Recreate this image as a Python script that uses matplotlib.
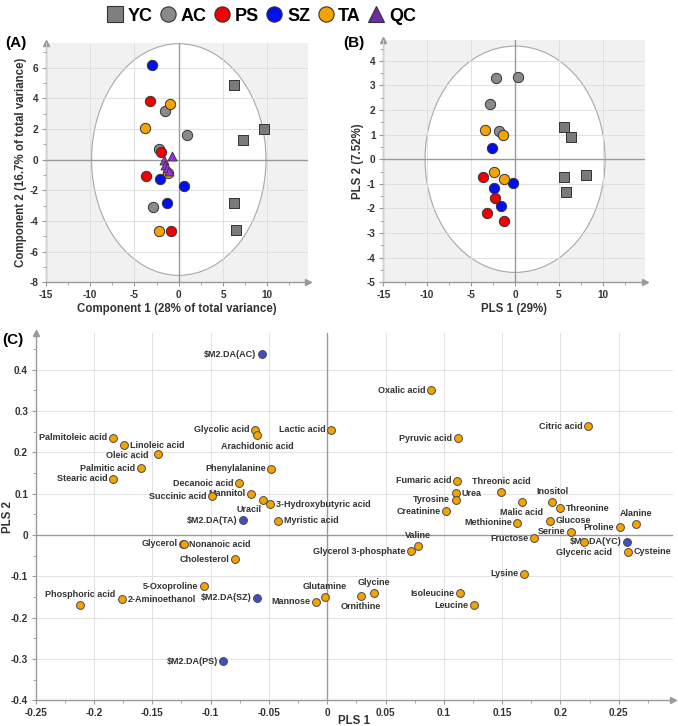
import numpy as np
import matplotlib.pyplot as plt
from matplotlib.patches import Ellipse
from matplotlib.lines import Line2D
from matplotlib.ticker import MultipleLocator

plt.rcParams['font.family'] = ['Liberation Sans', 'DejaVu Sans']
plt.rcParams['font.weight'] = 'bold'
plt.rcParams['axes.unicode_minus'] = False

# group colours
col_yc = '#7a7a7a'
col_ac = '#8a8a8a'
col_ps = '#f00000'
col_sz = '#0010f0'
col_ta = '#f5a300'
col_qc = '#9b30d9'

# (A) PCA scores
yc_a_x = [6.2, 9.6, 7.3, 6.2, 6.5]
yc_a_y = [4.86, 1.97, 1.3, -2.83, -4.62]
ac_a_x = [-1.5, 0.95, -2.25, -2.95]
ac_a_y = [3.17, 1.58, 0.69, -3.11]
ps_a_x = [-3.3, -1.95, -3.65, -0.85]
ps_a_y = [3.84, 0.48, -1.08, -4.67]
sz_a_x = [-3.05, -2.15, 0.55, -1.35]
sz_a_y = [6.16, -1.25, -1.75, -2.83]
ta_a_x = [-0.95, -3.8, -1.25, -2.25]
ta_a_y = [3.65, 2.05, -0.86, -4.64]
qc_a_x = [-0.8, -1.7, -1.55, -1.3, -1.1]
qc_a_y = [0.25, -0.05, -0.35, -0.55, -0.75]

# (B) PLS-DA scores
yc_b_x = [5.53, 6.4, 5.53, 8.03, 5.76]
yc_b_y = [1.32, 0.89, -0.73, -0.62, -1.34]
ac_b_x = [-2.12, 0.3, -2.84, -1.86]
ac_b_y = [3.31, 3.34, 2.24, 1.16]
ps_b_x = [-3.64, -2.27, -3.22, -1.29]
ps_b_y = [-0.72, -1.59, -2.18, -2.49]
sz_b_x = [-2.65, -2.42, -0.23, -1.63]
sz_b_y = [0.46, -1.16, -0.95, -1.88]
ta_b_x = [-3.41, -1.36, -2.39, -1.21]
ta_b_y = [1.19, 0.97, -0.51, -0.81]

# (C) loadings
met_names = ['Palmitoleic acid', 'Linoleic acid', 'Oleic acid', 'Palmitic acid', 'Stearic acid',
             'Glycolic acid', 'Arachidonic acid', 'Lactic acid', 'Phenylalanine', 'Decanoic acid',
             'Mannitol', 'Succinic acid', 'Uracil', '3-Hydroxybutyric acid', 'Myristic acid',
             'Glycerol', 'Nonanoic acid', 'Cholesterol', '5-Oxoproline', 'Phosphoric acid',
             '2-Aminoethanol', 'Mannose', 'Glutamine', 'Oxalic acid', 'Citric acid',
             'Pyruvic acid', 'Fumaric acid', 'Threonic acid', 'Urea', 'Tyrosine',
             'Creatinine', 'Malic acid', 'Inositol', 'Threonine', 'Methionine',
             'Glucose', 'Proline', 'Alanine', 'Serine', 'Fructose',
             'Glyceric acid', 'Cysteine', 'Valine', 'Glycerol 3-phosphate', 'Lysine',
             'Glycine', 'Ornithine', 'Isoleucine', 'Leucine']
met_x = [-0.184, -0.174, -0.145, -0.160, -0.184,
         -0.062, -0.060, 0.003, -0.048, -0.076,
         -0.065, -0.099, -0.055, -0.049, -0.042,
         -0.1237, -0.1232, -0.079, -0.106, -0.212,
         -0.176, -0.010, -0.002, 0.089, 0.224,
         0.112, 0.111, 0.149, 0.110, 0.110,
         0.102, 0.167, 0.193, 0.200, 0.163,
         0.191, 0.251, 0.265, 0.209, 0.177,
         0.220, 0.258, 0.078, 0.072, 0.169,
         0.040, 0.029, 0.114, 0.126]
met_y = [0.236, 0.217, 0.197, 0.162, 0.136,
         0.255, 0.242, 0.255, 0.161, 0.125,
         0.100, 0.094, 0.086, 0.074, 0.034,
         -0.021, -0.022, -0.059, -0.124, -0.169,
         -0.155, -0.161, -0.150, 0.350, 0.263,
         0.234, 0.132, 0.105, 0.101, 0.085,
         0.058, 0.081, 0.081, 0.065, 0.030,
         0.034, 0.019, 0.026, 0.008, -0.008,
         -0.016, -0.041, -0.027, -0.039, -0.094,
         -0.141, -0.147, -0.141, -0.170]

cls_names = ['$M2.DA(AC)', '$M2.DA(TA)', '$M2.DA(SZ)', '$M2.DA(PS)', '$M2.DA(YC)']
cls_x = [-0.056, -0.072, -0.060, -0.089, 0.257]
cls_y = [0.438, 0.036, -0.152, -0.305, -0.016]

# where labels sit relative to their point (default: left)
label_side = {'Linoleic acid': 'right', 'Arachidonic acid': 'below', 'Uracil': 'belowleft',
              '3-Hydroxybutyric acid': 'right', 'Myristic acid': 'right', 'Nonanoic acid': 'right',
              'Phosphoric acid': 'above', '2-Aminoethanol': 'right', 'Glutamine': 'above',
              'Threonic acid': 'above', 'Urea': 'right', 'Malic acid': 'below',
              'Inositol': 'above', 'Threonine': 'right', 'Glucose': 'right',
              'Alanine': 'above', 'Glyceric acid': 'below', 'Cysteine': 'right',
              'Valine': 'above', 'Glycine': 'above', 'Ornithine': 'below',
              'Oleic acid': 'oleic'}
side_offsets = {'left': (-4, 0, 'right'), 'right': (4, 0, 'left'),
                'above': (0, 7.5, 'center'), 'below': (0, -8, 'center'),
                'belowleft': (-1, -7, 'right'), 'oleic': (-7, -1.5, 'right')}

axis_grey = '#9a9a9a'
text_col = '#333333'


def add_arrows(ax):
    ax.plot(0, 1, marker='^', color=axis_grey, ms=5, transform=ax.transAxes, clip_on=False)
    ax.plot(1, 0, marker='>', color=axis_grey, ms=5, transform=ax.transAxes, clip_on=False)


def style_axes(ax):
    for s in ['top', 'right']:
        ax.spines[s].set_visible(False)
    for s in ['left', 'bottom']:
        ax.spines[s].set_color(axis_grey)
        ax.spines[s].set_linewidth(1)
    ax.tick_params(which='both', colors=axis_grey, labelcolor=text_col, labelsize=7.2, direction='out')
    ax.tick_params(which='major', length=3, pad=2.5)
    ax.tick_params(which='minor', length=2)
    for lab in ax.get_xticklabels() + ax.get_yticklabels():
        lab.set_fontweight('bold')
    ax.axhline(0, color=axis_grey, lw=1, zorder=2.6)
    ax.axvline(0, color=axis_grey, lw=1, zorder=2.6)
    add_arrows(ax)


def score_panel(ax, ell_w, ell_h):
    ax.set_facecolor('#f1f1f1')
    ax.add_patch(Ellipse((0, 0), 2 * ell_w, 2 * ell_h, facecolor='white',
                         edgecolor='#a8a8a8', lw=0.8, zorder=1))
    ax.set_axisbelow(False)
    ax.grid(True, which='major', color='#dcdcdc', lw=0.6)


fig = plt.figure(figsize=(6.78, 7.26), dpi=100)
lab_kw = dict(fontsize=8.3, fontweight='bold', color=text_col)

# ---- (A)
axA = fig.add_axes([0.0678, 0.6112, 0.3865, 0.3296])
score_panel(axA, 9.85, 7.55)
mk = dict(edgecolors='#333333', linewidths=0.7, zorder=4)
axA.scatter(yc_a_x, yc_a_y, marker='s', s=42, c=col_yc, **mk)
axA.scatter(ac_a_x, ac_a_y, marker='o', s=55, c=col_ac, **mk)
axA.scatter(ps_a_x, ps_a_y, marker='o', s=55, c=col_ps, **mk)
axA.scatter(sz_a_x, sz_a_y, marker='o', s=55, c=col_sz, **mk)
axA.scatter(ta_a_x, ta_a_y, marker='o', s=55, c=col_ta, **mk)
axA.scatter(qc_a_x, qc_a_y, marker='^', s=42, c=col_qc, edgecolors='#333333', linewidths=0.6, zorder=5)
axA.set_xlim(-15, 14.6)
axA.set_ylim(-8, 7.6)
axA.xaxis.set_major_locator(MultipleLocator(5))
axA.xaxis.set_minor_locator(MultipleLocator(2.5))
axA.yaxis.set_major_locator(MultipleLocator(2))
axA.yaxis.set_minor_locator(MultipleLocator(1))
axA.set_xticks([-15, -10, -5, 0, 5, 10])
style_axes(axA)
axA.set_xlabel('Component 1 (28% of total variance)', labelpad=2, **lab_kw)
axA.set_ylabel('Component 2 (16.7% of total variance)', labelpad=2, **lab_kw)

# ---- (B)
axB = fig.add_axes([0.5654, 0.6112, 0.386, 0.3338])
score_panel(axB, 10.25, 4.6)
axB.scatter(yc_b_x, yc_b_y, marker='s', s=42, c=col_yc, **mk)
axB.scatter(ac_b_x, ac_b_y, marker='o', s=55, c=col_ac, **mk)
axB.scatter(ps_b_x, ps_b_y, marker='o', s=55, c=col_ps, **mk)
axB.scatter(sz_b_x, sz_b_y, marker='o', s=55, c=col_sz, **mk)
axB.scatter(ta_b_x, ta_b_y, marker='o', s=55, c=col_ta, **mk)
axB.set_xlim(-15, 14.8)
axB.set_ylim(-5, 4.85)
axB.xaxis.set_major_locator(MultipleLocator(5))
axB.xaxis.set_minor_locator(MultipleLocator(2.5))
axB.yaxis.set_major_locator(MultipleLocator(1))
axB.yaxis.set_minor_locator(MultipleLocator(0.5))
axB.set_xticks([-15, -10, -5, 0, 5, 10])
style_axes(axB)
axB.set_xlabel('PLS 1 (29%)', labelpad=2, **lab_kw)
axB.set_ylabel('PLS 2 (7.52%)', labelpad=2, **lab_kw)

# ---- (C)
axC = fig.add_axes([0.0527, 0.0354, 0.9399, 0.5059])
axC.set_facecolor('white')
axC.set_axisbelow(True)
axC.grid(True, which='major', color='#e2e2e2', lw=0.7)
axC.scatter(met_x, met_y, s=32, c=col_ta, edgecolors='#4a4a4a', linewidths=0.7, zorder=4)
axC.scatter(cls_x, cls_y, s=32, c='#3d50c3', edgecolors='#4a4a4a', linewidths=0.7, zorder=4)
for name, x, y in list(zip(met_names, met_x, met_y)) + list(zip(cls_names, cls_x, cls_y)):
    dx, dy, ha = side_offsets[label_side.get(name, 'left')]
    axC.annotate(name, (x, y), xytext=(dx, dy), textcoords='offset points', ha=ha, va='center',
                 fontsize=6.5, fontweight='bold', color=text_col, zorder=3)
axC.set_xlim(-0.25, 0.2965)
axC.set_ylim(-0.4, 0.489)
axC.xaxis.set_minor_locator(MultipleLocator(0.025))
axC.yaxis.set_minor_locator(MultipleLocator(0.05))
axC.set_xticks([-0.25, -0.2, -0.15, -0.1, -0.05, 0, 0.05, 0.1, 0.15, 0.2, 0.25])
axC.set_xticklabels(['-0.25', '-0.2', '-0.15', '-0.1', '-0.05', '0', '0.05', '0.1', '0.15', '0.2', '0.25'])
axC.set_yticks([-0.4, -0.3, -0.2, -0.1, 0, 0.1, 0.2, 0.3, 0.4])
axC.set_yticklabels(['-0.4', '-0.3', '-0.2', '-0.1', '0', '0.1', '0.2', '0.3', '0.4'])
style_axes(axC)
axC.set_xlabel('PLS 1', **lab_kw)
axC.set_ylabel('PLS 2', **lab_kw)
axC.xaxis.set_label_coords(0.5, -0.041)
axC.yaxis.set_label_coords(-0.034, 0.5)

# panel letters
fig.text(0.008, 0.941, '(A)', fontsize=11, fontweight='bold', va='center')
fig.text(0.506, 0.941, '(B)', fontsize=11, fontweight='bold', va='center')
fig.text(0.004, 0.532, '(C)', fontsize=11, fontweight='bold', va='center')

# legend on top
groups = ['YC', 'AC', 'PS', 'SZ', 'TA', 'QC']
markers = ['s', 'o', 'o', 'o', 'o', '^']
legend_cols = ['#7f7f7f', '#8a8a8a', '#f00000', '#0010f0', '#f5a300', '#6f2c9f']
handles = [Line2D([], [], ls='', marker=m, ms=11, mfc=c, mec='#333333', mew=0.8)
           for m, c in zip(markers, legend_cols)]
fig.legend(handles, groups, loc='upper center', bbox_to_anchor=(0.385, 1.012), ncol=6, frameon=False,
           prop={'size': 13, 'weight': 'bold'}, handletextpad=0.2, columnspacing=0.35, handlelength=1.0)

fig.savefig('out.png', dpi=100)
